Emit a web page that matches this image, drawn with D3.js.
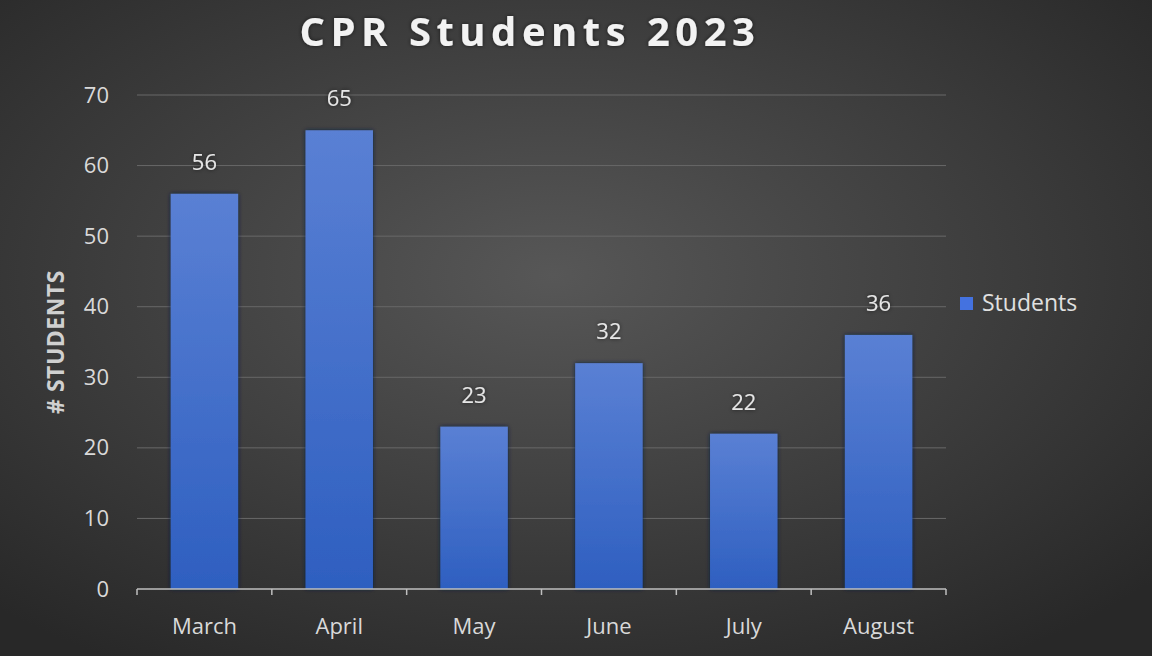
<!DOCTYPE html>
<html>
<head>
<meta charset="utf-8">
<script src="https://cdn.jsdelivr.net/npm/d3@7"></script>
<style>
  html, body { margin: 0; padding: 0; background: #333; }
  svg { display: block; }
  text { font-family: "Open Sans", "Noto Sans", sans-serif; }
</style>
</head>
<body>
<svg id="chart"></svg>
<script>
// data
const months = ['March', 'April', 'May', 'June', 'July', 'August'];
const students = [56, 65, 23, 32, 22, 36];
const yTicks = [0, 10, 20, 30, 40, 50, 60, 70];
const seriesName = 'Students';
const chartTitle = 'CPR Students 2023';
const yTitle = '# STUDENTS';

const W = 1152, H = 656;
const margin = { top: 95, right: 206, bottom: 67, left: 137 };
const width = W - margin.left - margin.right;
const height = H - margin.top - margin.bottom;

const svg = d3.select('#chart').attr('width', W).attr('height', H);

const defs = svg.append('defs');
const bg = defs.append('radialGradient').attr('id', 'bg')
  .attr('cx', '48%').attr('cy', '42%').attr('r', '70%');
bg.append('stop').attr('offset', '0%').attr('stop-color', '#575757');
bg.append('stop').attr('offset', '100%').attr('stop-color', '#282828');

const barGrad = defs.append('linearGradient').attr('id', 'barGrad')
  .attr('x1', 0).attr('y1', 0).attr('x2', 0).attr('y2', 1);
barGrad.append('stop').attr('offset', '0%').attr('stop-color', '#5a80d4');
barGrad.append('stop').attr('offset', '100%').attr('stop-color', '#2e5fc0');

const glow = defs.append('filter').attr('id', 'glow')
  .attr('x', '-10%').attr('y', '-30%').attr('width', '120%').attr('height', '160%');
glow.append('feDropShadow').attr('dx', 0).attr('dy', 0).attr('stdDeviation', 2)
  .attr('flood-color', '#000').attr('flood-opacity', 0.6);

const barShadow = defs.append('filter').attr('id', 'barShadow')
  .attr('x', '-20%').attr('y', '-10%').attr('width', '140%').attr('height', '120%');
barShadow.append('feDropShadow').attr('dx', 0).attr('dy', 0).attr('stdDeviation', 2)
  .attr('flood-color', '#0a1a40').attr('flood-opacity', 0.9);

svg.append('rect').attr('width', W).attr('height', H).attr('fill', 'url(#bg)');

const g = svg.append('g').attr('transform', `translate(${margin.left},${margin.top})`);

const x = d3.scaleBand()
  .domain(months)
  .range([0, width])
  .paddingInner(0.5)
  .paddingOuter(0.25);

const y = d3.scaleLinear().domain([0, 70]).range([height, 0]);

// gridlines
g.append('g')
  .selectAll('line')
  .data(yTicks.filter(d => d > 0))
  .join('line')
  .attr('x1', 0).attr('x2', width)
  .attr('y1', d => y(d)).attr('y2', d => y(d))
  .attr('stroke', '#686868')
  .attr('stroke-width', 1);

// y axis labels
const yAxis = g.append('g')
  .call(d3.axisLeft(y).tickValues(yTicks).tickSize(0).tickPadding(28));
yAxis.select('.domain').remove();
yAxis.selectAll('text')
  .attr('fill', '#d9d9d9')
  .style('font-size', '22px');

// bars
g.append('g')
  .selectAll('rect')
  .data(students)
  .join('rect')
  .attr('x', (d, i) => x(months[i]))
  .attr('y', d => y(d))
  .attr('width', x.bandwidth())
  .attr('height', d => height - y(d))
  .attr('fill', 'url(#barGrad)')
  .attr('filter', 'url(#barShadow)');

// data labels
g.append('g')
  .selectAll('text')
  .data(students)
  .join('text')
  .attr('x', (d, i) => x(months[i]) + x.bandwidth() / 2)
  .attr('y', d => y(d) - 24)
  .attr('text-anchor', 'middle')
  .attr('fill', '#e6e6e6')
  .style('font-size', '22px')
  .attr('filter', 'url(#glow)')
  .text(d => d);

// x axis: ticks on category boundaries
const xAxis = g.append('g').attr('transform', `translate(0,${height})`);
xAxis.append('line')
  .attr('x1', 0).attr('x2', width)
  .attr('stroke', '#bfbfbf').attr('stroke-width', 1.5);
const step = x.step();
xAxis.selectAll('line.tick')
  .data(d3.range(months.length + 1))
  .join('line')
  .attr('class', 'tick')
  .attr('x1', i => i * step).attr('x2', i => i * step)
  .attr('y1', 0).attr('y2', 6)
  .attr('stroke', '#bfbfbf').attr('stroke-width', 1.5);
xAxis.selectAll('text')
  .data(months)
  .join('text')
  .attr('x', d => x(d) + x.bandwidth() / 2)
  .attr('y', 45)
  .attr('text-anchor', 'middle')
  .attr('fill', '#d9d9d9')
  .style('font-size', '22px')
  .text(d => d);

// y axis title
svg.append('text')
  .attr('transform', `translate(64, ${margin.top + height / 2}) rotate(-90)`)
  .attr('text-anchor', 'middle')
  .attr('fill', '#d0d0d0')
  .style('font-size', '23px')
  .style('font-weight', 'bold')
  .style('letter-spacing', '0.5px')
  .text(yTitle);

// title
svg.append('text')
  .attr('x', 530)
  .attr('y', 46)
  .attr('text-anchor', 'middle')
  .attr('fill', '#f2f2f2')
  .style('font-size', '40px')
  .style('font-weight', 'bold')
  .style('letter-spacing', '5.5px')
  .attr('filter', 'url(#glow)')
  .text(chartTitle);

// legend
const legend = svg.append('g').attr('transform', 'translate(960, 297)');
legend.append('rect')
  .attr('width', 13).attr('height', 13)
  .attr('fill', '#4472e0');
legend.append('text')
  .attr('x', 22).attr('y', 14)
  .attr('fill', '#e0e0e0')
  .style('font-size', '23px')
  .text(seriesName);
</script>
</body>
</html>
